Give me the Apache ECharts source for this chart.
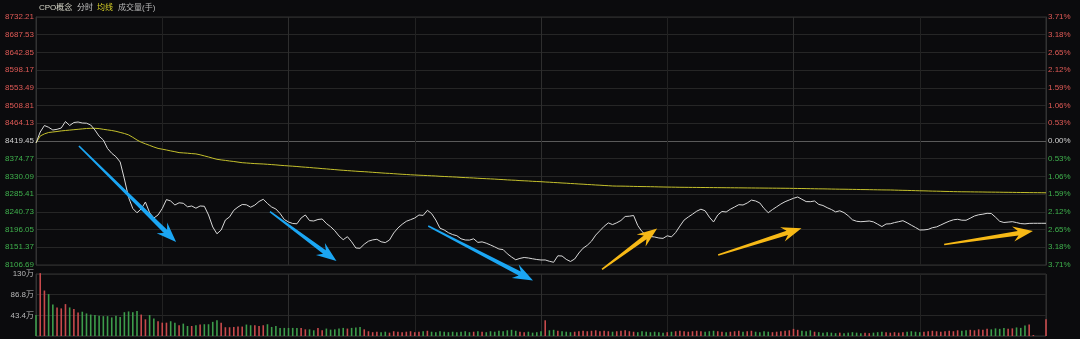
<!DOCTYPE html>
<html><head><meta charset="utf-8">
<script src="https://cdn.jsdelivr.net/npm/echarts@6/dist/echarts.min.js"></script>
<style>html,body{margin:0;padding:0;background:#0b0b0d;}#c{width:1080px;height:339px;}</style>
</head><body><div id="c"></div>
<script>
const PRECLOSE = 8419.45;
const STEP = 44.68;

const PRICE = [
8414.41,8442.15,8458.54,8454.00,8447.19,8448.96,8452.24,8468.63,8458.54,8466.11,
8467.37,8464.85,8464.34,8459.80,8447.19,8431.56,8421.97,8400.53,8388.43,8379.85,
8366.49,8323.61,8276.96,8249.21,8238.37,8247.95,8265.61,8238.37,8225.26,8232.82,
8249.21,8271.66,8268.13,8258.04,8263.59,8262.33,8253.50,8255.52,8249.97,8255.52,
8254.80,8232.82,8202.56,8185.41,8194.99,8220.21,8228.03,8244.68,8253.00,8259.30,
8258.55,8252.49,8257.79,8266.87,8272.42,8261.82,8253.00,8247.95,8236.60,8221.47,
8215.17,8211.38,8210.63,8225.26,8232.82,8218.70,8217.69,8221.47,8222.73,8211.38,
8203.31,8193.23,8179.86,8170.53,8178.09,8165.23,8149.60,8148.84,8159.18,8166.75,
8170.02,8171.54,8165.23,8163.21,8169.77,8187.43,8200.04,8209.37,8216.93,8220.97,
8225.26,8232.82,8231.81,8244.68,8236.35,8220.21,8199.53,8194.99,8188.18,8183.39,
8180.62,8172.80,8169.77,8169.50,8172.80,8163.72,8164.98,8161.70,8157.16,8152.37,
8147.07,8145.56,8134.97,8126.90,8119.84,8123.37,8125.64,8124.38,8122.36,8120.59,
8119.33,8119.40,8116.05,8113.53,8129.92,8129.42,8120.85,8115.55,8121.85,8136.99,
8149.09,8156.41,8166.75,8182.13,8193.23,8204.32,8212.90,8208.61,8213.15,8218.95,
8229.04,8229.80,8231.56,8206.09,8190.96,8181.88,8178.60,8177.34,8174.82,8173.81,
8180.36,8177.59,8188.69,8204.83,8219.96,8227.78,8234.84,8242.41,8247.45,8243.41,
8227.53,8215.17,8232.82,8241.65,8240.39,8247.45,8253.00,8258.80,8258.04,8263.09,
8270.40,8268.13,8263.09,8249.21,8238.62,8246.44,8253.50,8260.56,8266.36,8270.65,
8274.94,8278.22,8272.42,8266.62,8266.36,8268.13,8259.56,8256.78,8251.23,8246.69,
8240.64,8243.41,8238.87,8230.80,8220.72,8216.93,8215.92,8216.68,8217.69,8215.42,
8209.62,8203.57,8210.12,8210.63,8213.65,8215.92,8218.45,8213.15,8207.10,8201.30,
8194.99,8195.20,8196.51,8200.79,8202.81,8207.60,8212.65,8217.19,8220.72,8221.98,
8219.71,8219.50,8224.75,8230.30,8233.33,8234.84,8237.11,8236.60,8227.27,8216.93,
8213.91,8214.92,8215.92,8213.65,8211.13,8210.38,8211.64,8211.89,8211.89,8211.89,
8211.89
];

const AVG = [
8414.41,8432.06,8437.36,8440.89,8442.15,8443.41,8444.92,8445.93,8446.94,8447.95,
8448.96,8449.97,8450.98,8451.48,8451.48,8450.72,8448.96,8447.44,8445.93,8443.91,
8441.14,8438.37,8434.83,8428.78,8421.97,8416.42,8412.39,8408.35,8404.32,8400.79,
8398.77,8396.75,8394.48,8392.46,8390.19,8389.44,8388.68,8387.67,8386.92,8384.65,
8381.87,8379.10,8376.07,8373.30,8371.78,8370.52,8369.01,8367.75,8366.24,8364.72,
8363.97,8363.21,8362.45,8361.95,8361.44,8360.69,8359.93,8359.17,8358.17,8357.41,
8356.65,8355.90,8355.14,8354.13,8353.37,8352.62,8351.61,8350.85,8349.84,8349.09,
8348.08,8347.32,8346.31,8345.56,8344.80,8344.04,8343.29,8342.53,8342.02,8341.27,
8340.51,8339.75,8339.00,8338.24,8337.74,8336.98,8336.22,8335.47,8334.96,8334.21,
8333.70,8333.20,8332.69,8332.19,8331.68,8331.18,8330.42,8329.92,8329.41,8328.91,
8328.41,8327.65,8327.14,8326.64,8326.14,8325.38,8324.87,8324.37,8323.87,8323.36,
8322.61,8322.10,8321.34,8320.84,8320.34,8319.58,8319.07,8318.57,8317.81,8317.31,
8316.80,8316.05,8315.54,8314.79,8314.28,8313.53,8313.02,8312.26,8311.76,8311.00,
8310.50,8309.74,8309.24,8308.48,8307.98,8307.22,8306.72,8305.96,8305.71,8305.65,
8305.46,8305.20,8304.95,8304.70,8304.50,8304.40,8304.19,8303.94,8303.69,8303.44,
8303.25,8303.10,8302.93,8302.68,8302.60,8302.50,8302.40,8302.30,8302.20,8302.10,
8302.00,8301.90,8301.80,8301.70,8301.60,8301.50,8301.40,8301.30,8301.20,8301.10,
8301.00,8300.90,8300.80,8300.70,8300.60,8300.50,8300.40,8300.30,8300.20,8300.10,
8299.90,8299.70,8299.60,8299.40,8299.20,8299.00,8298.80,8298.70,8298.50,8298.30,
8298.10,8297.90,8297.80,8297.60,8297.40,8297.20,8297.00,8296.90,8296.70,8296.50,
8296.30,8296.10,8296.00,8295.90,8295.60,8295.30,8295.00,8294.80,8294.50,8294.20,
8293.90,8293.70,8293.40,8293.10,8292.90,8292.60,8292.30,8292.10,8291.80,8291.60,
8291.40,8291.30,8291.20,8291.00,8290.90,8290.80,8290.60,8290.50,8290.40,8290.30,
8290.10,8290.00,8289.90,8289.70,8289.60,8289.50,8289.30,8289.20,8289.10,8289.00,
8288.80
];

// volume in 万手
const VOLUME = [
44,132,95.5,88,66,60,58,67,60,56.6,
49.5,51,47.4,45,44,42.4,41.7,41.7,39,42.4,
40,50,51.6,50,52.3,45,35,44,37,31,
28,28,31,28,22.6,26,21,21,22.6,24,
24.7,24.7,29.7,33,28,18.4,18.4,19,19.8,19.8,
24,22.6,22.6,21,22.6,24.7,19,21,17,17,
17,17,17,17,14,14,12,17,12,15.6,
13.4,14,15.6,17,15.6,17,17.7,19,14,10,
8,9,8,9,7,10,9,8,9,10,
8,9,10,11,9,8,10,9,8,9,
8,9,10,8,9,10,9,8,10,9,
11,10,12,13,11,9,8,9,7,8,
10,33,12,13,11,10,9,8,9,10,
11,10,11,12,10,11,10,9,10,11,
12,10,9,8,10,9,8,9,8,7,
8,9,10,11,10,9,10,11,10,9,
10,11,10,9,8,9,10,11,9,10,
11,9,8,10,9,8,9,10,11,12,
15,13,11,10,12,9,8,7,8,7,
6,7,6,7,8,7,6,7,6,7,
8,9,8,7,8,7,8,9,10,9,
8,9,10,11,10,9,10,11,10,12,
11,12,13,12,14,13,15,14,16,15,
17,15,16,18,17,22,24,2,0,0,
35
];

const PRICE_TICK_COUNT = 7;            // ticks on each side of the previous close
const VOL_TICK_LABELS = ['', '43.4万', '86.8万', '130万'];
const LEGEND_ITEMS = [
  {text: 'CPO概念', color: '#d6d6c8'},
  {text: '分时', color: '#c8c8c8'},
  {text: '均线', color: '#d8d028'},
  {text: '成交量(手)', color: '#b8b8b8'}
];

const CATEGORIES = [];
(function(){
  function pad(n){return (n<10?'0':'')+n;}
  for (let m = 9*60+30; m <= 11*60+30; m++) CATEGORIES.push(pad(Math.floor(m/60))+':'+pad(m%60));
  for (let m = 13*60+1; m <= 15*60; m++) CATEGORIES.push(pad(Math.floor(m/60))+':'+pad(m%60));
})();

// arrow annotations in data space: [minute index, price]
const ARROWS = [
  {color: '#1ba6f3', from: [10.2, 8406.9], to: [33.3, 8164.8]},
  {color: '#1ba6f3', from: [55.6, 8241.2], to: [71.4, 8116.9]},
  {color: '#1ba6f3', from: [93.2, 8205.1], to: [118.1, 8067.7]},
  {color: '#f7b916', from: [134.5, 8095.4], to: [147.6, 8198.8]},
  {color: '#f7b916', from: [162.1, 8132.0], to: [181.9, 8199.3]},
  {color: '#f7b916', from: [215.8, 8158.5], to: [236.9, 8192.5]}
];

const FONT = '"Liberation Sans", Arial, "Noto Sans CJK SC", sans-serif';
const RED = '#e05a56', GREEN = '#3fb14d', NEUTRAL = '#d0d0d0';

const offsets = PRICE.map(p => +(p - PRECLOSE).toFixed(2));
const avgOffsets = AVG.map(p => +(p - PRECLOSE).toFixed(2));
const volData = VOLUME.map((v, i) => {
  const prev = i === 0 ? PRECLOSE : PRICE[i-1];
  const up = PRICE[i] >= prev;
  return {value: v, itemStyle: {color: up ? '#c84a4c' : '#3d9c4b'}};
});

const yRange = PRICE_TICK_COUNT * STEP;
const hLineColors = [];
for (let i = 0; i <= PRICE_TICK_COUNT*2; i++) hLineColors.push(i === PRICE_TICK_COUNT ? '#5a5a5a' : '#262626');

function colorBySign(v){
  if (Math.abs(v) < 1e-6) return NEUTRAL;
  return v > 0 ? RED : GREEN;
}

const chart = echarts.init(document.getElementById('c'), null, {renderer: 'canvas'});

const legendX = [39, 77, 97, 118];
const legendGraphics = LEGEND_ITEMS.map((it, i) => ({
  type: 'text', id: 'lg' + i, x: legendX[i], y: 8,
  style: {text: it.text, fill: it.color, font: '8px ' + FONT, verticalAlign: 'middle', textVerticalAlign: 'middle'}
}));

const option = {
  backgroundColor: '#0b0b0d',
  animation: false,
  grid: [
    {left: 36, right: 34, top: 17, height: 248, show: true, borderColor: '#333', borderWidth: 1},
    {left: 36, right: 34, top: 274, height: 62, show: true, borderColor: '#333', borderWidth: 1}
  ],
  xAxis: [
    {type: 'category', gridIndex: 0, data: CATEGORIES, boundaryGap: false,
     axisLine: {show: false}, axisTick: {show: false}, axisLabel: {show: false},
     splitLine: {show: true, interval: (i) => i % 30 === 0, lineStyle: {color: ['#2e2e2e', '#222222'], width: 1}}},
    {type: 'category', gridIndex: 1, data: CATEGORIES, boundaryGap: false,
     axisLine: {show: false}, axisTick: {show: false}, axisLabel: {show: false},
     splitLine: {show: true, interval: (i) => i % 30 === 0, lineStyle: {color: ['#2e2e2e', '#222222'], width: 1}}}
  ],
  yAxis: [
    {type: 'value', gridIndex: 0, position: 'left', min: -yRange, max: yRange, interval: STEP,
     axisLine: {show: true, lineStyle: {color: '#333'}}, axisTick: {show: false},
     axisLabel: {fontSize: 8, fontFamily: FONT, margin: 2,
       formatter: v => (PRECLOSE + v).toFixed(2),
       color: v => colorBySign(v)},
     splitLine: {show: true, lineStyle: {color: hLineColors, width: 1}}},
    {type: 'value', gridIndex: 0, position: 'right', min: -yRange, max: yRange, interval: STEP,
     axisLine: {show: true, lineStyle: {color: '#333'}}, axisTick: {show: false},
     axisLabel: {fontSize: 8, fontFamily: FONT, margin: 2,
       formatter: v => Math.abs(v / PRECLOSE * 100).toFixed(2) + '%',
       color: v => colorBySign(v)},
     splitLine: {show: false}},
    {type: 'value', gridIndex: 1, position: 'left', min: 0, max: 130.2, interval: 43.4,
     axisLine: {show: true, lineStyle: {color: '#333'}}, axisTick: {show: false},
     axisLabel: {fontSize: 8, fontFamily: FONT, margin: 2, color: '#b8b8b8',
       formatter: (v, idx) => VOL_TICK_LABELS[idx] || ''},
     splitLine: {show: true, lineStyle: {color: '#262626', width: 1}}}
  ],
  series: [
    {type: 'line', name: '分时', xAxisIndex: 0, yAxisIndex: 0, data: offsets, showSymbol: false, symbol: 'none',
     lineStyle: {color: '#d8d8d8', width: 1}, z: 3},
    {type: 'line', name: '均线', xAxisIndex: 0, yAxisIndex: 0, data: avgOffsets, showSymbol: false, symbol: 'none',
     lineStyle: {color: '#c4c02c', width: 1}, z: 2},
    {type: 'bar', name: '成交量', xAxisIndex: 1, yAxisIndex: 2, data: volData, barWidth: 1.6, clip: false}
  ],
  graphic: legendGraphics
};
chart.setOption(option);

// arrows: positioned through the chart's own scales
const pA = chart.convertToPixel({gridIndex: 0}, [0, 0]);
const pB = chart.convertToPixel({gridIndex: 0}, [CATEGORIES.length - 1, STEP]);
function toPx(pt){
  const x = pA[0] + (pB[0] - pA[0]) * pt[0] / (CATEGORIES.length - 1);
  const y = pA[1] + (pB[1] - pA[1]) * (pt[1] - PRECLOSE) / STEP;
  return [x, y];
}
function arrowPoly(a, b){
  const dx = b[0]-a[0], dy = b[1]-a[1], L = Math.hypot(dx, dy);
  const ux = dx/L, uy = dy/L, nx = -uy, ny = ux;
  const P = (u, v) => [a[0] + ux*u + nx*v, a[1] + uy*u + ny*v];
  return [P(0,-0.8), P(L-15,-2.3), P(L-20,-7.5), P(L,0), P(L-20,7.5), P(L-15,2.3), P(0,0.8)];
}
const arrowGraphics = ARROWS.map((ar, i) => ({
  type: 'polygon', id: 'ar' + i, z: 100,
  shape: {points: arrowPoly(toPx(ar.from), toPx(ar.to))},
  style: {fill: ar.color}
}));
chart.setOption({graphic: legendGraphics.concat(arrowGraphics)});
</script></body></html>
